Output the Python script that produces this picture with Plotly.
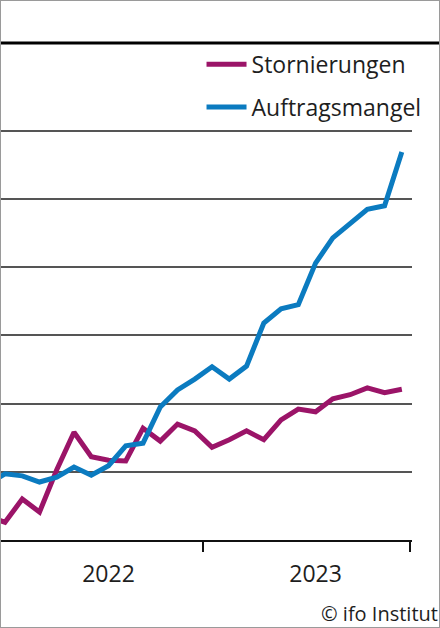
import plotly.graph_objects as go

# month index: -1 = Dez 2021, 0 = Jan 2022 ... 23 = Dez 2023
months = list(range(-1, 24))

# Anteil der Unternehmen in % (Wohnungsbau)
stornierungen = [3.5, 2.6, 6.0, 4.1, 10.3, 15.8, 12.2, 11.7, 11.6, 16.4, 14.5, 17.0, 16.0,
                 13.6, 14.7, 16.0, 14.7, 17.6, 19.2, 18.8, 20.7, 21.3, 22.3, 21.6, 22.1]
auftragsmangel = [8.2, 9.7, 9.4, 8.5, 9.2, 10.7, 9.5, 10.9, 13.8, 14.2, 19.5, 22.0, 23.6,
                  25.4, 23.6, 25.5, 31.8, 33.9, 34.5, 40.6, 44.3, 46.3, 48.5, 49.0, 56.9]

year_pos = [6, 18]
year_labels = ["2022", "2023"]
year_bounds = [-0.5, 11.5, 23.5]
grid_vals = [10, 20, 30, 40, 50, 60]

MAGENTA = "#9b1468"
BLUE = "#0b7bc0"
FONT = "Open Sans"

fig = go.Figure()
fig.add_trace(go.Scatter(x=months, y=stornierungen, name="Stornierungen", mode="lines",
                         line=dict(color=MAGENTA, width=5), legendgroup="a"))
fig.add_trace(go.Scatter(x=months, y=auftragsmangel, name="Auftragsmangel", mode="lines",
                         line=dict(color=BLUE, width=5), legendgroup="b"))

fig.update_layout(
    width=440, height=628,
    margin=dict(l=0, r=0, t=0, b=0),
    paper_bgcolor="white", plot_bgcolor="white",
    font=dict(family=FONT, size=23, color="#1e1e1e"),
    showlegend=True,
    legend=dict(x=0.458, y=0.932, xanchor="left", yanchor="top",
                bgcolor="rgba(0,0,0,0)", tracegroupgap=10, itemwidth=40,
                font=dict(family=FONT, size=23, color="#1e1e1e")),
    xaxis=dict(
        domain=[0, 412 / 440], range=[-0.29, 23.59],
        tickmode="array", tickvals=year_pos, ticktext=year_labels,
        ticks="", showgrid=False, zeroline=False,
        showline=True, linecolor="#111111", linewidth=1.5,
        ticklabelstandoff=13,
        minor=dict(tickmode="array", tickvals=year_bounds, ticks="outside",
                   ticklen=10, tickwidth=1.5, tickcolor="#111111", showgrid=False),
    ),
    yaxis=dict(
        domain=[88 / 628, (628 - 62.6) / 628], range=[0, 70],
        tickmode="array", tickvals=grid_vals, showticklabels=False, ticks="",
        showgrid=True, gridcolor="#555555", gridwidth=1.5, zeroline=False,
    ),
    shapes=[
        dict(type="line", xref="paper", yref="paper", x0=0, x1=1,
             y0=1 - 43 / 628, y1=1 - 43 / 628, line=dict(color="#000000", width=3)),
        dict(type="rect", xref="paper", yref="paper", x0=0, x1=1, y0=0, y1=1,
             line=dict(color="#9a9a9a", width=2)),
    ],
    annotations=[
        dict(text="© ifo Institut", xref="paper", yref="paper", x=1, y=1 - 613 / 628,
             xanchor="right", yanchor="middle", showarrow=False,
             font=dict(family=FONT, size=20, color="#1e1e1e")),
    ],
)

# the page's default body margin would shift the figure
fig.write_html("out.html", config={"displayModeBar": False},
               post_script="document.body.style.margin = '0';")
